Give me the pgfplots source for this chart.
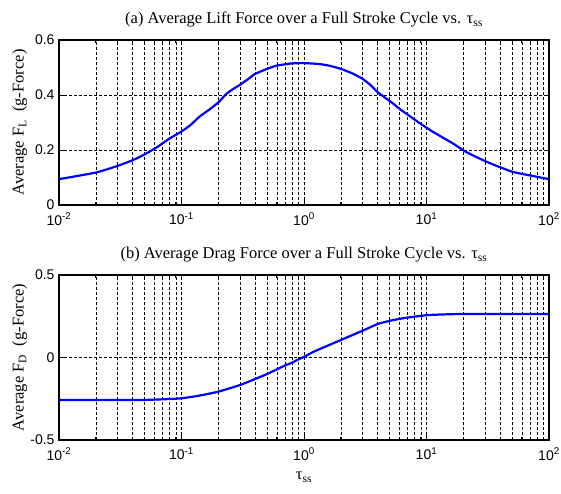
\documentclass[border=0pt]{standalone}
\usepackage{fontspec}
\setmainfont{Liberation Serif}
\newfontfamily\arial{Liberation Sans}
\usepackage{pgfplots}
\pgfplotsset{compat=1.18}
\pgfplotsset{mystyle/.style={
  scale only axis, width=490bp, xmin=0.01, xmax=100,
  xtick={0.01,0.1,1,10,100},
  xticklabels={10\textsuperscript{-2},10\textsuperscript{-1},10\textsuperscript{0},10\textsuperscript{1},10\textsuperscript{2}},
  minor xtick={0.02,0.03,0.04,0.05,0.06,0.07,0.08,0.09,0.2,0.3,0.4,0.5,0.6,0.7,0.8,0.9,2,3,4,5,6,7,8,9,20,30,40,50,60,70,80,90},
  grid=both,
  major grid style={black, line width=0.6bp, dash pattern=on 3bp off 2bp},
  minor grid style={black, line width=0.6bp, dash pattern=on 3bp off 2bp},
  axis line style={black, line width=1.2bp},
  tick style={black, line width=0.8bp},
  major tick length=5bp, minor tick length=3bp,
  tick pos=both, tick align=inside,
  ticklabel style={font=\arial\fontsize{14bp}{15bp}\selectfont},
  xticklabel style={yshift=-4.5bp},
  yticklabel style={xshift=-1bp},
  title style={font=\fontsize{16.5bp}{18bp}\selectfont, yshift=3bp},
  label style={font=\fontsize{16.5bp}{18bp}\selectfont},
  xlabel style={yshift=-5bp},
  ylabel style={at={(axis description cs:-0.08,0.5)}, anchor=center},
  every axis plot/.append style={blue, line width=2.2bp},
}}
\begin{document}
\begin{tikzpicture}
\path[use as bounding box] (0,0) rectangle (561bp,494bp);
\begin{axis}[xmode=log, mystyle, height=165bp, at={(59bp,289bp)}, anchor=south west,
  ymin=0, ymax=0.6, ytick={0,0.2,0.4,0.6}, yticklabels={0,0.2,0.4,0.6},
  title={(a) Average Lift Force over a Full Stroke Cycle vs. τ\textsubscript{ss}},
  ylabel={Average F\textsubscript{L}\ \ (g-Force)}]
\addplot[no marks, smooth, tension=0.3] coordinates {(0.01,0.094)(0.02,0.118)(0.03,0.142)(0.04,0.163)(0.05,0.184)(0.063,0.21)(0.08,0.242)(0.1,0.267)(0.12,0.293)(0.14,0.321)(0.17,0.348)(0.2,0.373)(0.23,0.402)(0.26,0.42)(0.3,0.437)(0.35,0.458)(0.4,0.477)(0.5,0.495)(0.6,0.507)(0.8,0.515)(1,0.516)(1.3,0.513)(1.6,0.507)(2,0.495)(2.5,0.478)(3,0.459)(3.5,0.436)(4,0.41)(5.3,0.37)(6,0.35)(7.1,0.327)(8.9,0.296)(11.3,0.266)(16.4,0.224)(21,0.193)(31,0.157)(50,0.121)(73,0.106)(100,0.094)};
\end{axis}
\begin{axis}[xmode=log, mystyle, height=165bp, at={(59bp,54bp)}, anchor=south west,
  ymin=-0.5, ymax=0.5, ytick={-0.5,0,0.5}, yticklabels={-0.5,0,0.5},
  title={(b) Average Drag Force over a Full Stroke Cycle vs. τ\textsubscript{ss}},
  ylabel={Average F\textsubscript{D}\ \ (g-Force)},
  xlabel={τ\textsubscript{ss}}]
\addplot[no marks, smooth, tension=0.3] coordinates {(0.01,-0.258)(0.05,-0.257)(0.097,-0.248)(0.14,-0.231)(0.2,-0.207)(0.3,-0.167)(0.4,-0.13)(0.5,-0.1)(0.6,-0.072)(0.7,-0.048)(0.8,-0.031)(0.9,-0.011)(1,0.003)(1.2,0.035)(2,0.106)(3,0.162)(4,0.203)(5,0.222)(6,0.234)(7,0.242)(8.9,0.252)(10.7,0.258)(20,0.264)(100,0.264)};
\end{axis}
\end{tikzpicture}
\end{document}
